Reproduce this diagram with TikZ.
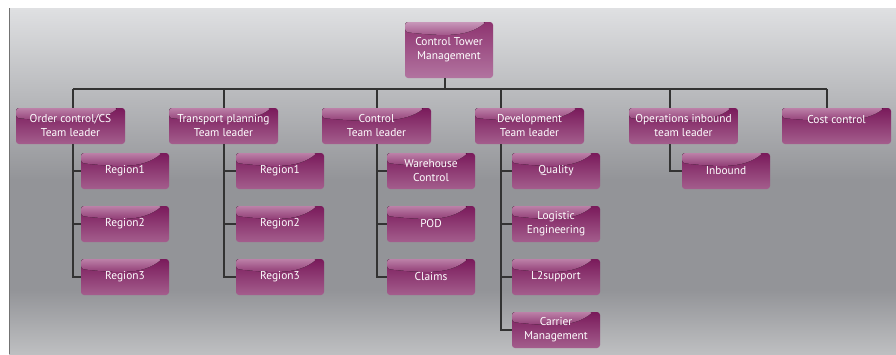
\documentclass[tikz,border=0pt]{standalone}
\usepackage{fontspec}
\setmainfont{PT Sans}
\definecolor{boxtop}{HTML}{BC80A8}
\definecolor{boxmid}{HTML}{7A1A5B}
\definecolor{boxbot}{HTML}{A45E8D}
\definecolor{roottop}{HTML}{C898BA}
\definecolor{rootmid}{HTML}{8E3470}
\definecolor{rootbot}{HTML}{B274A0}
\definecolor{bgtop}{HTML}{DFE0E2}
\definecolor{bgmid}{HTML}{939498}
\definecolor{bgbot}{HTML}{BEBFC1}
\tikzset{
  gloss/.style 2 args={path picture={
      \path (path picture bounding box.north west) coordinate (gnw)
            (path picture bounding box.north east) coordinate (gne)
            (path picture bounding box.north) coordinate (gn);
      \fill[top color=#1, bottom color=#2!75!#1]
        (gnw) -- ([xshift=-7pt]gne) .. controls ([xshift=-25pt,yshift=-14pt]gne)
        and ([yshift=-15pt]gn) .. ([yshift=-10pt]gnw) -- cycle;}},
  orgbox/.style={rounded corners=3pt, top color=boxmid, bottom color=boxbot,
    gloss={boxtop}{boxmid}, text=white, align=center, minimum height=36pt,
    inner sep=1pt, font=\fontsize{11.4}{14}\selectfont},
  rootbox/.style={orgbox, top color=rootmid, bottom color=rootbot,
    gloss={roottop}{rootmid}, minimum width=88pt, minimum height=56pt},
  leadbox/.style={orgbox, minimum width=109pt},
  subbox/.style={orgbox, minimum width=88pt},
  link/.style={draw=black!80, line width=1.2pt}
}
\begin{document}
\begin{tikzpicture}[x=1pt,y=-1pt]
\useasboundingbox (0,0) rectangle (896,354);
% backdrop
\fill[top color=bgtop, bottom color=bgmid] (9,8) rectangle (896,180);
\fill[bgmid] (9,180) rectangle (896,290);
\fill[top color=bgmid, bottom color=bgbot] (9,290) rectangle (896,354);
\draw[black!55, line width=.8pt] (9,8) -- (9,354);

\node[rootbox] (root) at (449,50) {Control Tower\\Management};

% team leaders
\node[leadbox] (oc) at (70.5,126) {Order control/CS\\Team leader};
\node[leadbox] (tp) at (223.5,126) {Transport planning\\Team leader};
\node[leadbox] (ct) at (376.5,126) {Control\\Team leader};
\node[leadbox] (dv) at (529.5,126) {Development\\Team leader};
\node[leadbox] (op) at (683.5,126) {Operations inbound\\team leader};
\node[leadbox] (cc) at (836.5,126) {Cost control\\~};

% teams
\node[subbox] (oc1) at (125,171) {Region1};
\node[subbox] (oc2) at (125,224) {Region2};
\node[subbox] (oc3) at (125,277) {Region3};
\node[subbox] (tp1) at (280,171) {Region1};
\node[subbox] (tp2) at (280,224) {Region2};
\node[subbox] (tp3) at (280,277) {Region3};
\node[subbox] (ct1) at (431,171) {Warehouse\\Control};
\node[subbox] (ct2) at (431,224) {POD};
\node[subbox] (ct3) at (431,277) {Claims};
\node[subbox] (dv1) at (556,171) {Quality};
\node[subbox] (dv2) at (556,224) {Logistic\\Engineering};
\node[subbox] (dv3) at (556,277) {L2support};
\node[subbox] (dv4) at (556,330) {Carrier\\Management};
\node[subbox] (op1) at (726,171) {Inbound};

% trunks
\coordinate (bus) at (0,89);
\coordinate (roott) at ([xshift=-4pt]root.south);
\coordinate (oct) at ([xshift=2.5pt]oc.south);
\coordinate (tpt) at ([xshift=.5pt]tp.south);
\coordinate (ctt) at ([xshift=.5pt]ct.south);
\coordinate (dvt) at ([xshift=-28.5pt]dv.south);
\coordinate (opt) at ([xshift=-13.5pt]op.south);
\coordinate (cct) at ([xshift=-9.5pt]cc.north);

\draw[link] (roott) -- (roott |- bus);
\draw[link] (oct |- bus) -- (cct |- bus);
\foreach \t/\b in {oct/oc, tpt/tp, ctt/ct, dvt/dv, opt/op}
  \draw[link] (\t |- bus) -- (\t |- \b.north);
\draw[link] (cct |- bus) -- (cct);

\foreach \t/\c in {oct/oc1, oct/oc2, oct/oc3, tpt/tp1, tpt/tp2, tpt/tp3,
                   ctt/ct1, ctt/ct2, ctt/ct3, dvt/dv1, dvt/dv2, dvt/dv3, dvt/dv4, opt/op1}
  \draw[link] (\t) |- (\c.west);
\end{tikzpicture}
\end{document}
